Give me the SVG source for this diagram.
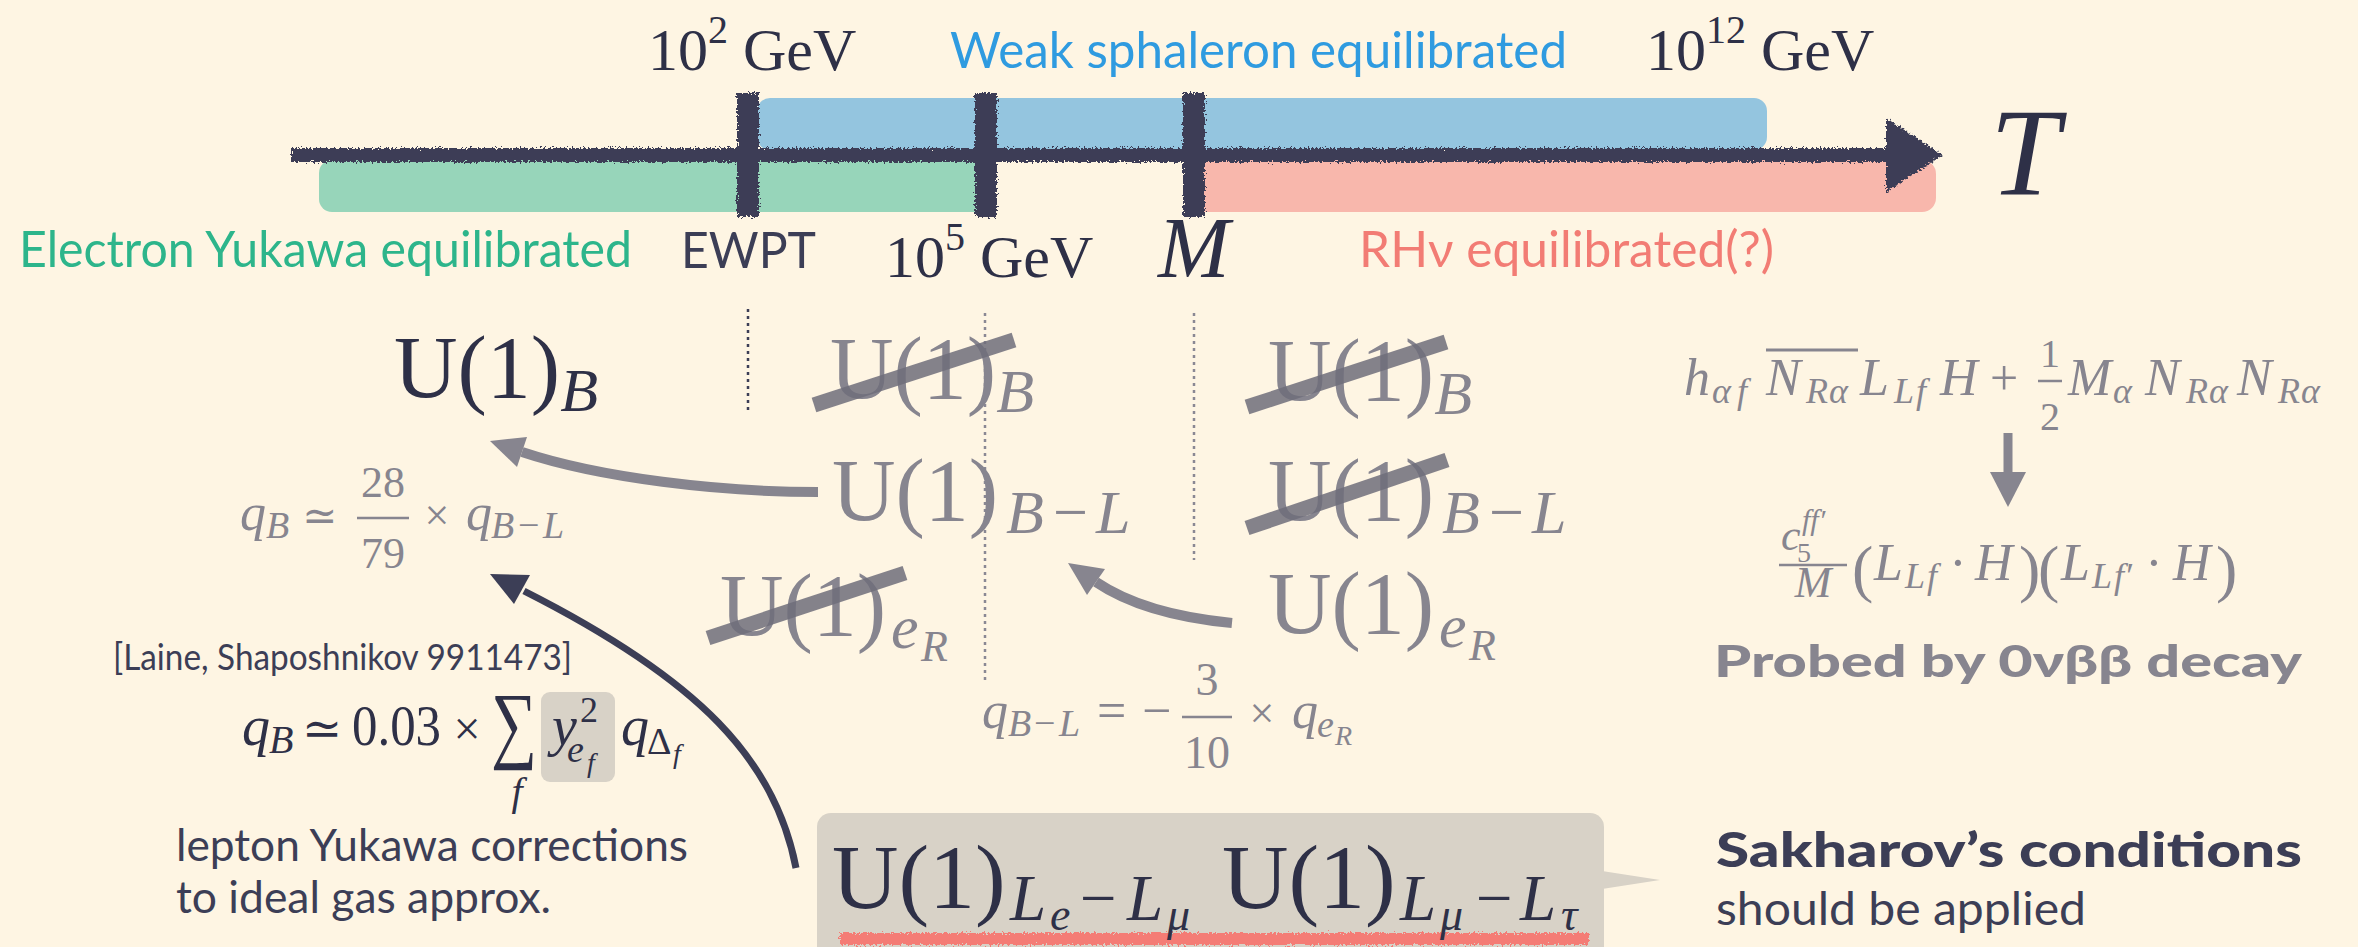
<svg xmlns="http://www.w3.org/2000/svg" width="2358" height="947" viewBox="0 0 2358 947">
<style>
.m{font-family:"Liberation Serif","DejaVu Serif",serif}
.i{font-style:italic}
.s{font-family:"Lato","Open Sans","Liberation Sans",sans-serif}
.b{font-weight:bold}
.k{font-weight:900}
.g{fill:#87858F}
.d{fill:#2E3047}
.n{fill:#3C3E56}
.strike{stroke:#6F6D7A;stroke-width:15;stroke-opacity:0.85}
.dot{stroke-width:2.5;stroke-dasharray:3 4;fill:none}
.garr{fill:none;stroke:#87858F;stroke-width:10}
.darr{fill:none;stroke:#3C3E56;stroke-width:7}
</style>
<defs>
<filter id="rough" filterUnits="userSpaceOnUse" x="0" y="0" width="2358" height="947">
<feTurbulence type="fractalNoise" baseFrequency="0.5" numOctaves="2" seed="4" result="n"/>
<feDisplacementMap in="SourceGraphic" in2="n" scale="8" xChannelSelector="R" yChannelSelector="G"/>
</filter>
</defs>
<rect x="0" y="0" width="2358" height="947" fill="#FEF5E3"/>

<g id="timeline">
<rect x="757" y="98" width="1010" height="52" rx="13" fill="#94C5DF"/>
<rect x="319" y="160" width="668" height="52" rx="13" fill="#97D5BA"/>
<rect x="1192" y="160" width="744" height="52" rx="14" fill="#F8B7AC"/>
<g filter="url(#rough)" fill="#3C3E56">
<rect x="291" y="148" width="1600" height="14"/>
<polygon points="1886,118 1943,155 1886,192"/>
<rect x="737" y="93" width="22" height="124"/>
<rect x="975" y="93" width="22" height="124"/>
<rect x="1183" y="93" width="22" height="124"/>
</g>
</g>

<g id="timeline-labels">
<text class="m d" x="648" y="70" font-size="60">10<tspan font-size="40" dy="-27">2</tspan><tspan dy="27"> GeV</tspan></text>
<text class="s" x="950" y="68" font-size="50" fill="#2F9BE0" textLength="617" lengthAdjust="spacingAndGlyphs">Weak sphaleron equilibrated</text>
<text class="m d" x="1646" y="70" font-size="60">10<tspan font-size="40" dy="-27">12</tspan><tspan dy="27"> GeV</tspan></text>
<text class="s" x="19" y="267" font-size="50" fill="#2DB58B" textLength="613" lengthAdjust="spacingAndGlyphs">Electron Yukawa equilibrated</text>
<text class="s n" x="681" y="268" font-size="50" textLength="135" lengthAdjust="spacingAndGlyphs">EWPT</text>
<text class="m d" x="885" y="277" font-size="60">10<tspan font-size="40" dy="-27">5</tspan><tspan dy="27"> GeV</tspan></text>
<text class="m i d" x="1158" y="277" font-size="86">M</text>
<text class="s" x="1359" y="267" font-size="50" fill="#F27C74" textLength="415" lengthAdjust="spacingAndGlyphs">RHν equilibrated(?)</text>
<text class="m i d" x="1990" y="195" font-size="125">T</text>
</g>

<g id="dividers">
<line class="dot" x1="748" y1="309" x2="748" y2="412" stroke="#3C3E56"/>
<line class="dot" x1="985" y1="313" x2="985" y2="682" stroke="#8A8893"/>
<line class="dot" x1="1194" y1="313" x2="1194" y2="560" stroke="#8A8893"/>
</g>

<g id="node-u1b-low">
<text class="m d" x="394" y="397" font-size="88">U(1)<tspan class="i" font-size="62" dy="14">B</tspan></text>
</g>
<g id="node-u1b-mid">
<text class="m g" x="830" y="398" font-size="88">U(1)<tspan class="i" font-size="62" dy="14">B</tspan></text>
<line class="strike" x1="814" y1="405" x2="1014" y2="340"/>
</g>
<g id="node-u1b-high">
<text class="m g" x="1268" y="400" font-size="88">U(1)<tspan class="i" font-size="62" dy="14">B</tspan></text>
<line class="strike" x1="1247" y1="407" x2="1446" y2="342"/>
</g>
<g id="node-u1bl-mid">
<text class="m g" x="832" y="520" font-size="88">U(1)</text>
<text class="m g" y="533" font-size="62"><tspan class="i" x="1006">B</tspan><tspan x="1053">−</tspan><tspan class="i" x="1096">L</tspan></text>
</g>
<g id="node-u1bl-high">
<text class="m g" x="1268" y="520" font-size="88">U(1)</text>
<text class="m g" y="533" font-size="62"><tspan class="i" x="1442">B</tspan><tspan x="1489">−</tspan><tspan class="i" x="1532">L</tspan></text>
<line class="strike" x1="1247" y1="528" x2="1447" y2="460"/>
</g>
<g id="node-u1er-low">
<text class="m g" x="720" y="635" font-size="88">U(1)</text>
<text class="m i g" x="891" y="648" font-size="62">e</text>
<text class="m i g" x="921" y="661" font-size="44">R</text>
<line class="strike" x1="708" y1="638" x2="905" y2="573"/>
</g>
<g id="node-u1er-high">
<text class="m g" x="1268" y="633" font-size="88">U(1)</text>
<text class="m i g" x="1439" y="647" font-size="62">e</text>
<text class="m i g" x="1469" y="660" font-size="44">R</text>
</g>

<g id="formula-qb">
<text class="m i g" x="240" y="530" font-size="52">q</text>
<text class="m i g" x="266" y="538" font-size="38">B</text>
<text class="m g" x="302" y="530" font-size="42">≃</text>
<text class="m g" x="383" y="497" font-size="44" text-anchor="middle">28</text>
<line x1="357" y1="518" x2="409" y2="518" stroke="#87858F" stroke-width="2.5"/>
<text class="m g" x="383" y="568" font-size="44" text-anchor="middle">79</text>
<text class="m g" x="437" y="530" font-size="44" text-anchor="middle">×</text>
<text class="m i g" x="466" y="530" font-size="52">q</text>
<text class="m g" y="538" font-size="38"><tspan class="i" x="491">B</tspan><tspan x="518">−</tspan><tspan class="i" x="543">L</tspan></text>
</g>

<g id="formula-qbl">
<text class="m i g" x="982" y="728" font-size="52">q</text>
<text class="m g" y="736" font-size="38"><tspan class="i" x="1008">B</tspan><tspan x="1034">−</tspan><tspan class="i" x="1059">L</tspan></text>
<text class="m g" x="1097" y="728" font-size="52">=</text>
<text class="m g" x="1142" y="728" font-size="52">−</text>
<text class="m g" x="1207" y="695" font-size="46" text-anchor="middle">3</text>
<line x1="1182" y1="717" x2="1232" y2="717" stroke="#87858F" stroke-width="2.5"/>
<text class="m g" x="1207" y="768" font-size="46" text-anchor="middle">10</text>
<text class="m g" x="1262" y="728" font-size="44" text-anchor="middle">×</text>
<text class="m i g" x="1292" y="728" font-size="52">q</text>
<text class="m i g" x="1317" y="737" font-size="38">e</text>
<text class="m i g" x="1335" y="745" font-size="28">R</text>
</g>

<g id="formula-laine">
<text class="s n" x="113" y="670" font-size="36" textLength="459" lengthAdjust="spacingAndGlyphs">[Laine, Shaposhnikov 9911473]</text>
<rect x="541" y="692" width="74" height="90" rx="9" fill="#D8D2C7"/>
<text class="m i d" x="242" y="745" font-size="56">q</text>
<text class="m i d" x="269" y="753" font-size="40">B</text>
<text class="m d" x="302" y="745" font-size="48">≃</text>
<text class="m d" x="352" y="745" font-size="56" textLength="89" lengthAdjust="spacingAndGlyphs">0.03</text>
<text class="m d" x="467" y="745" font-size="48" text-anchor="middle">×</text>
<text class="m d" x="491" y="752" font-size="86" textLength="46" lengthAdjust="spacingAndGlyphs">∑</text>
<text class="m i d" x="517" y="805" font-size="40" text-anchor="middle">f</text>
<text class="m i d" x="552" y="745" font-size="56">y</text>
<text class="m d" x="580" y="722" font-size="36">2</text>
<text class="m i d" x="567" y="762" font-size="38">e</text>
<text class="m i d" x="587" y="772" font-size="28">f</text>
<text class="m i d" x="621" y="745" font-size="56">q</text>
<text class="m d" x="647" y="754" font-size="38">Δ</text>
<text class="m i d" x="673" y="763" font-size="28">f</text>
<text class="s n" x="176" y="861" font-size="44" textLength="512" lengthAdjust="spacingAndGlyphs">lepton Yukawa corrections</text>
<text class="s n" x="176" y="913" font-size="44" textLength="375" lengthAdjust="spacingAndGlyphs">to ideal gas approx.</text>
</g>

<g id="formula-lagrangian">
<text class="m i g" x="1684" y="395" font-size="52">h</text>
<text class="m i g" y="403" font-size="36"><tspan x="1712">α</tspan><tspan x="1737">f</tspan></text>
<text class="m i g" x="1766" y="395" font-size="52">N</text>
<text class="m i g" y="403" font-size="36"><tspan x="1806">R</tspan><tspan x="1829">α</tspan></text>
<line x1="1766" y1="350" x2="1858" y2="350" stroke="#87858F" stroke-width="3"/>
<text class="m i g" x="1860" y="395" font-size="52">L</text>
<text class="m i g" y="403" font-size="36"><tspan x="1894">L</tspan><tspan x="1916">f</tspan></text>
<text class="m i g" x="1940" y="395" font-size="52">H</text>
<text class="m g" x="1990" y="395" font-size="50">+</text>
<text class="m g" x="2050" y="367" font-size="40" text-anchor="middle">1</text>
<line x1="2038" y1="381" x2="2062" y2="381" stroke="#87858F" stroke-width="2.5"/>
<text class="m g" x="2050" y="430" font-size="40" text-anchor="middle">2</text>
<text class="m i g" x="2068" y="395" font-size="52">M</text>
<text class="m i g" x="2113" y="403" font-size="36">α</text>
<text class="m i g" x="2145" y="395" font-size="52">N</text>
<text class="m i g" y="403" font-size="36"><tspan x="2186">R</tspan><tspan x="2209">α</tspan></text>
<text class="m i g" x="2237" y="395" font-size="52">N</text>
<text class="m i g" y="403" font-size="36"><tspan x="2278">R</tspan><tspan x="2301">α</tspan></text>
</g>

<g id="formula-weinberg">
<text class="m i g" x="1781" y="550" font-size="44">c</text>
<text class="m i g" x="1802" y="530" font-size="30">ff′</text>
<text class="m g" x="1797" y="562" font-size="28">5</text>
<line x1="1779" y1="565" x2="1847" y2="565" stroke="#87858F" stroke-width="2.5"/>
<text class="m i g" x="1813" y="597" font-size="44" text-anchor="middle">M</text>
<text class="m g" x="1852" y="590" font-size="64">(</text>
<text class="m i g" x="1874" y="580" font-size="52">L</text>
<text class="m i g" y="588" font-size="36"><tspan x="1905">L</tspan><tspan x="1927">f</tspan></text>
<text class="m g" x="1958" y="580" font-size="52" text-anchor="middle">·</text>
<text class="m i g" x="1975" y="580" font-size="52">H</text>
<text class="m g" x="2019" y="590" font-size="64">)</text>
<text class="m g" x="2038" y="590" font-size="64">(</text>
<text class="m i g" x="2061" y="580" font-size="52">L</text>
<text class="m i g" y="588" font-size="36"><tspan x="2092">L</tspan><tspan x="2114">f′</tspan></text>
<text class="m g" x="2154" y="580" font-size="52" text-anchor="middle">·</text>
<text class="m i g" x="2173" y="580" font-size="52">H</text>
<text class="m g" x="2216" y="590" font-size="64">)</text>
<text class="s k g" x="1714" y="677" font-size="44" textLength="588" lengthAdjust="spacingAndGlyphs">Probed by 0νββ decay</text>
</g>

<g id="node-lepton-box">
<rect x="817" y="813" width="787" height="170" rx="14" fill="#D8D2C7"/>
<polygon points="1602,871 1660,880 1602,889" fill="#D8D2C7"/>
<rect x="840" y="933" width="749" height="12" fill="#F47B75" filter="url(#rough)"/>
<text class="m d" x="832" y="908" font-size="92">U(1)</text>
<text class="m i d" x="1010" y="920" font-size="65">L</text>
<text class="m i d" x="1050" y="930" font-size="46">e</text>
<text class="m d" x="1080" y="920" font-size="65">−</text>
<text class="m i d" x="1127" y="920" font-size="65">L</text>
<text class="m i d" x="1167" y="930" font-size="46">μ</text>
<text class="m d" x="1222" y="908" font-size="92">U(1)</text>
<text class="m i d" x="1400" y="920" font-size="65">L</text>
<text class="m i d" x="1440" y="930" font-size="46">μ</text>
<text class="m d" x="1476" y="920" font-size="65">−</text>
<text class="m i d" x="1520" y="920" font-size="65">L</text>
<text class="m i d" x="1561" y="930" font-size="46">τ</text>
</g>

<g id="note-sakharov">
<text class="s k n" x="1716" y="867" font-size="48" textLength="586" lengthAdjust="spacingAndGlyphs">Sakharov’s conditions</text>
<text class="s n" x="1716" y="925" font-size="46" textLength="370" lengthAdjust="spacingAndGlyphs">should be applied</text>
</g>

<g id="connectors">
<path class="garr" d="M 818 492 C 720 492 600 478 522 452"/>
<polygon points="490,441 527,437 517,467" fill="#87858F"/>
<path class="garr" d="M 1232 623 C 1180 618 1130 605 1096 582"/>
<polygon points="1068,563 1105,569 1087,595" fill="#87858F"/>
<path class="darr" d="M 796 868 C 775 760 700 680 524 591"/>
<polygon points="490,574 530,575 514,604" fill="#3C3E56"/>
<line x1="2008" y1="433" x2="2008" y2="474" stroke="#87858F" stroke-width="9"/>
<polygon points="1990,472 2026,472 2008,507" fill="#87858F"/>
</g>
</svg>
